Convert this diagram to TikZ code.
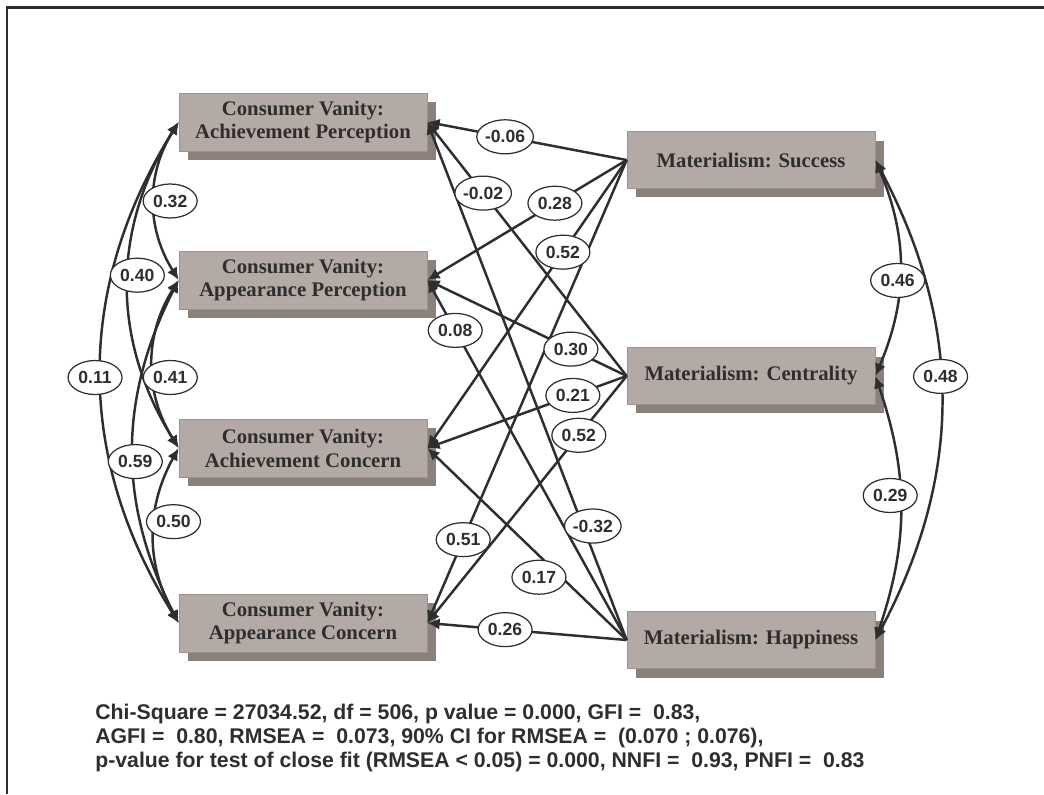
\documentclass[tikz,border=0pt]{standalone}
\usepackage{fontspec}
\setmainfont{Liberation Serif}
\setsansfont{Liberation Sans}
\usetikzlibrary{arrows.meta,shapes.geometric,shadows}
\definecolor{boxgray}{HTML}{B3A9A5}
\definecolor{shadegray}{HTML}{8C807C}
\definecolor{edgegray}{HTML}{9E928E}
\definecolor{ink}{HTML}{2E2E2E}

\begin{document}
\begin{tikzpicture}[x=0.02cm, y=-0.02cm,
    construct/.style={draw=edgegray, fill=boxgray, text=ink, minimum width=4.96cm, minimum height=1.16cm, align=center, inner sep=0pt, font=\bfseries\fontsize{11.8}{13.6}\selectfont, drop shadow={shadow xshift=0.18cm, shadow yshift=-0.18cm, fill=shadegray, opacity=1}},
    est/.style={ellipse, draw=ink, fill=white, text=ink, line width=0.7pt, minimum width=1.08cm, minimum height=0.68cm, inner sep=0pt, font=\sffamily\bfseries\fontsize{10}{12}\selectfont},
    effect/.style={ink, line width=1.4pt, -{Latex[length=7pt,width=6.5pt]}},
    covar/.style={ink, line width=1.4pt, {Latex[length=7pt,width=6.5pt]}-{Latex[length=7pt,width=6.5pt]}}]
  \useasboundingbox (0,0) rectangle (1044,794);
  \draw[ink, line width=0.06cm] (7,794) -- (7,8) -- (1044,8);

  \node[construct] (AP) at (303,122) {Consumer Vanity:\\Achievement Perception};
  \node[construct] (ApP) at (303,280) {Consumer Vanity:\\Appearance Perception};
  \node[construct] (AC) at (303,448) {Consumer Vanity:\\Achievement Concern};
  \node[construct] (ApC) at (303,623) {Consumer Vanity:\\Appearance Concern};
  \node[construct, minimum height=1.14cm] (MS) at (751,160) {Materialism: Success};
  \node[construct, minimum height=1.14cm] (MC) at (751,376) {Materialism: Centrality};
  \node[construct, minimum height=1.14cm] (MH) at (751,640) {Materialism: Happiness};

  \def\effects{MS/AP/0.61/-0.06/0/0, MS/ApP/0.36/0.28/0/0, MS/AC/0.32/0.52/0/0, MS/ApC/0.82/0.51/0/0,
    MC/AP/0.72/-0.02/0/0, MC/ApP/0.28/0.30/0/0, MC/AC/0.27/0.21/0/0, MC/ApC/0.24/0.52/0/0,
    MH/AP/0.22/-0.32/10/0, MH/ApP/0.86/0.08/0/0, MH/AC/0.40/0.17/-8/14, MH/ApC/0.61/0.26/0/0}
  \def\covleft{AP/ApP/32/0.5/16/0.32, AP/AC/32/0.47/9/0.40, AP/ApC/32/0.51/-6/0.11,
    ApP/AC/32/0.58/17/0.41, ApP/ApC/27/0.53/2/0.59, AC/ApC/29/0.42/19/0.50}
  \def\covright{MS/MC/23/0.56/-2/0.46, MS/MH/28/0.45/0/0.48, MC/MH/19/0.45/-10/0.29}

  \foreach \a/\b/\p/\v/\dx/\dy in \effects
    \draw[effect] (\a.west) -- (\b.east);
  \foreach \a/\b/\n/\p/\s/\v in \covleft
    \draw[covar] (\a.west) to[bend right=\n] (\b.west);
  \foreach \a/\b/\n/\p/\s/\v in \covright
    \draw[covar] (\a.east) to[bend left=\n] (\b.east);

  \foreach \a/\b/\p/\v/\dx/\dy in \effects
    \path (\a.west) -- (\b.east) node[est, pos=\p, xshift=\dx*0.02cm, yshift=-\dy*0.02cm] (e\a\b) {\v};
  \foreach \a/\b/\n/\p/\s/\v in \covleft
    \path (\a.west) to[bend right=\n] node[est, pos=\p, xshift=\s*0.02cm] (c\a\b) {\v} (\b.west);
  \foreach \a/\b/\n/\p/\s/\v in \covright
    \path (\a.east) to[bend left=\n] node[est, pos=\p, xshift=\s*0.02cm] (c\a\b) {\v} (\b.east);

  \node[anchor=north west, inner sep=0pt, align=left, text=ink, font=\sffamily\bfseries\fontsize{12.1}{13.6}\selectfont] (fitstats) at (95,704)
    {Chi-Square = 27034.52, df = 506, p value = 0.000, GFI =\ \ 0.83,\\
     AGFI =\ \ 0.80, RMSEA =\ \ 0.073, 90\% CI for RMSEA =\ \ (0.070 ; 0.076),\\
     p-value for test of close fit (RMSEA < 0.05) = 0.000, NNFI =\ \ 0.93, PNFI =\ \ 0.83};
\end{tikzpicture}
\end{document}
